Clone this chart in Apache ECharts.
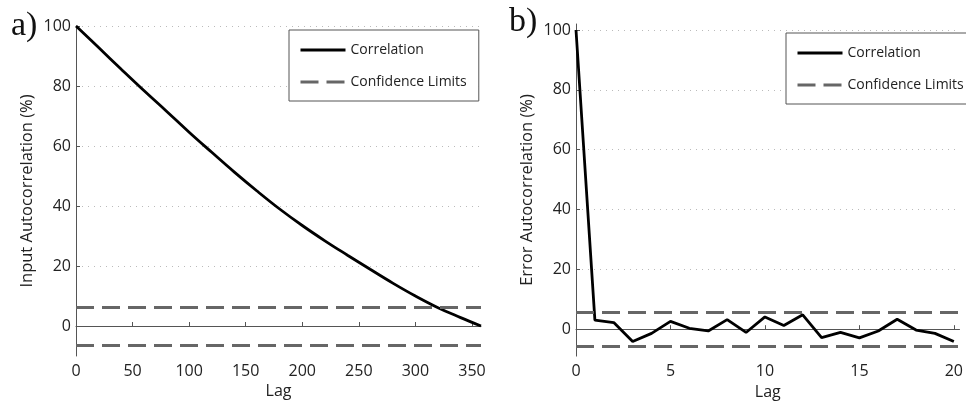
<!DOCTYPE html>
<html>
<head>
    <meta charset='utf-8' />
    <title>autocorrelation</title>
    <script src="https://cdn.jsdelivr.net/npm/echarts@6/dist/echarts.min.js"></script>
</head>
<body style='margin:0;width: 966px;height:405px;background:#fff;'>
<div id='chart' style='width:966px;height:405px;'></div>

<script type='text/javascript'>
    // a) input autocorrelation
    var inputLags = [0, 20, 40, 60, 80, 100, 120, 140, 160, 180, 200, 220, 240, 260, 280, 300, 320, 340, 358];
    var inputCorr = [100, 92.8, 85.6, 78.5, 71.6, 64.6, 57.9, 51.3, 45.0, 39.0, 33.5, 28.4, 23.6, 18.9, 14.3, 10.0, 6.1, 2.8, 0];
    var inputConf = 6.4;

    // b) error autocorrelation
    var errorLags = [0, 1, 2, 3, 4, 5, 6, 7, 8, 9, 10, 11, 12, 13, 14, 15, 16, 17, 18, 19, 20];
    var errorCorr = [100, 3.0, 2.2, -4.1, -1.4, 2.6, 0.3, -0.6, 3.2, -1.1, 4.1, 1.2, 4.8, -2.8, -1.1, -2.9, -0.6, 3.3, -0.3, -1.4, -4.1];
    var errorConf = 5.6;

    var legendNames = ['Correlation', 'Confidence Limits'];

    var font = 'Open Sans';
    var axisColor = '#555';
    var textColor = '#222';
    var solid = { color: '#000', width: 2.8 };
    var dash = { color: '#666', width: 3, type: [18, 8] };

    function pairs(xs, ys) {
        return xs.map(function (x, i) { return [x, ys[i]]; });
    }

    function xAxisOpt(idx, max, interval, gap) {
        return {
            type: 'value', gridIndex: idx, min: 0, max: max, interval: interval,
            name: 'Lag', nameLocation: 'middle', nameGap: gap,
            nameTextStyle: { fontFamily: font, fontSize: 16, color: textColor },
            axisLine: { lineStyle: { color: axisColor, width: 1 } },
            axisTick: { inside: true, length: 4, lineStyle: { color: axisColor } },
            axisLabel: { fontFamily: font, fontSize: 16, color: textColor, margin: 7, showMaxLabel: false },
            splitLine: { show: false }
        };
    }

    function yAxisOpt(idx, min, max, name) {
        return {
            type: 'value', gridIndex: idx, min: min, max: max, splitNumber: 5,
            name: name, nameLocation: 'middle', nameGap: 40,
            nameTextStyle: { fontFamily: font, fontSize: 16.5, color: textColor },
            axisLine: { show: true, lineStyle: { color: axisColor, width: 1 } },
            axisTick: { show: true, inside: true, length: 4, lineStyle: { color: axisColor } },
            axisLabel: { fontFamily: font, fontSize: 16, color: textColor, margin: 5, showMinLabel: false, showMaxLabel: max === 100 },
            splitLine: { show: true, showMinLine: false, showMaxLine: max === 100, lineStyle: { color: '#bbb', width: 1, type: [1, 5] } }
        };
    }

    function corrSeries(idx, data) {
        return {
            name: legendNames[0], type: 'line', xAxisIndex: idx, yAxisIndex: idx,
            data: data, smooth: idx === 0 ? 0.4 : false, showSymbol: false, symbol: 'none',
            lineStyle: solid, itemStyle: { color: '#000' },
            z: 3, silent: true
        };
    }

    function confSeries(idx, conf) {
        return {
            name: legendNames[1], type: 'line', xAxisIndex: idx, yAxisIndex: idx,
            data: [], symbol: 'none', lineStyle: dash, itemStyle: { color: '#666' },
            markLine: {
                silent: true, symbol: 'none', label: { show: false },
                lineStyle: dash,
                data: [{ yAxis: conf }, { yAxis: -conf }]
            },
            z: 2
        };
    }

    function legendOpt(left, top) {
        return {
            data: [
                { name: legendNames[0], lineStyle: solid },
                { name: legendNames[1], lineStyle: dash }
            ],
            orient: 'vertical', left: left, top: top,
            itemWidth: 45, itemHeight: 14, itemGap: 18,
            padding: [13, 12, 12, 10],
            itemStyle: { opacity: 0 },
            borderColor: '#555', borderWidth: 1, backgroundColor: '#fff',
            textStyle: { fontFamily: font, fontSize: 14, color: textColor },
            selectedMode: false
        };
    }

    var option = {
        animation: false,
        backgroundColor: '#fff',
        grid: [
            { left: 76, top: 26, width: 405, height: 330 },
            { left: 576, top: 24, width: 390, height: 333 }
        ],
        xAxis: [xAxisOpt(0, 358, 50, 17), xAxisOpt(1, 20.3, 5, 21)],
        yAxis: [
            yAxisOpt(0, -10, 100, 'Input Autocorrelation (%)'),
            yAxisOpt(1, -9, 102, 'Error Autocorrelation (%)')
        ],
        legend: [legendOpt(289, 30), legendOpt(786, 33)],
        series: [
            corrSeries(0, pairs(inputLags, inputCorr)),
            confSeries(0, inputConf),
            corrSeries(1, pairs(errorLags, errorCorr)),
            confSeries(1, errorConf)
        ],
        graphic: [
            { type: 'text', left: 11, top: 9, style: { text: 'a)', font: '34px "Liberation Serif"', fill: '#111' } },
            { type: 'text', left: 509, top: 5, style: { text: 'b)', font: '34px "Liberation Serif"', fill: '#111' } }
        ]
    };

    var myChart = echarts.init(document.getElementById('chart'));
    myChart.setOption(option);
</script>
</body>
</html>
